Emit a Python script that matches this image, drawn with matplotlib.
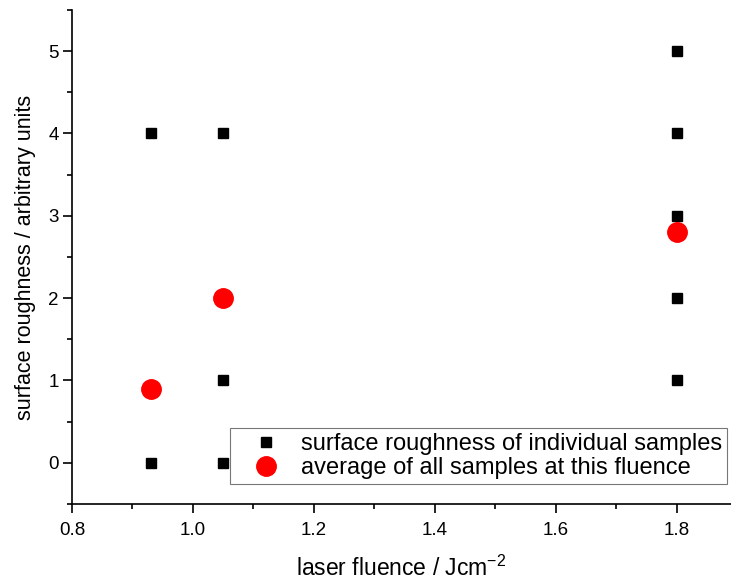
import matplotlib
matplotlib.use("Agg")
import matplotlib.pyplot as plt
from matplotlib.ticker import MultipleLocator

plt.rcParams['font.family'] = ['Liberation Sans', 'DejaVu Sans']
plt.rcParams['mathtext.fontset'] = 'custom'
plt.rcParams['mathtext.rm'] = 'Liberation Sans'

# --- datos ---
sample_fluence = [0.93, 0.93, 1.05, 1.05, 1.05, 1.8, 1.8, 1.8, 1.8, 1.8]
sample_roughness = [4, 0, 4, 1, 0, 5, 4, 3, 2, 1]
avg_fluence = [0.93, 1.05, 1.8]
avg_roughness = [0.9, 2.0, 2.8]

fig = plt.figure(figsize=(7.31, 5.86), dpi=100)
ax = fig.add_axes([0.0985, 0.14, 0.9015, 0.843])

ax.plot(sample_fluence, sample_roughness, 's', color='black', markersize=7.5,
        label='surface roughness of individual samples')
ax.plot(avg_fluence, avg_roughness, 'o', color='red', markersize=14,
        label='average of all samples at this fluence')

ax.set_xlim(0.8, 1.89)
ax.set_ylim(-0.5, 5.5)
ax.xaxis.set_major_locator(MultipleLocator(0.2))
ax.xaxis.set_minor_locator(MultipleLocator(0.1))
ax.yaxis.set_major_locator(MultipleLocator(1))
ax.yaxis.set_minor_locator(MultipleLocator(0.5))
ax.xaxis.set_major_formatter(plt.FormatStrFormatter('%.1f'))

for s in ['top', 'right']:
    ax.spines[s].set_visible(False)
for s in ['left', 'bottom']:
    ax.spines[s].set_linewidth(1.2)

ax.tick_params(which='major', direction='out', length=6.5, width=1.2, labelsize=13.5)
ax.tick_params(which='minor', direction='out', length=3.6, width=1.2)
ax.tick_params(axis='y', which='major', pad=3)
ax.tick_params(axis='x', which='major', pad=6.5)

ax.set_xlabel('laser fluence / Jcm$^{\\mathregular{-2}}$', fontsize=16.5, labelpad=12)
ax.set_ylabel('surface roughness / arbitrary units', fontsize=15.5, labelpad=9)

leg = ax.legend(loc='lower right', bbox_to_anchor=(0.994, 0.0405), fontsize=17,
                frameon=True, fancybox=False, edgecolor='#555555',
                handletextpad=0.2, borderpad=0.2, labelspacing=0.1,
                handlelength=2.6, borderaxespad=0.0,
                markerscale=1.0, numpoints=1)
leg.get_frame().set_linewidth(0.8)

fig.savefig('out.png', dpi=100)
